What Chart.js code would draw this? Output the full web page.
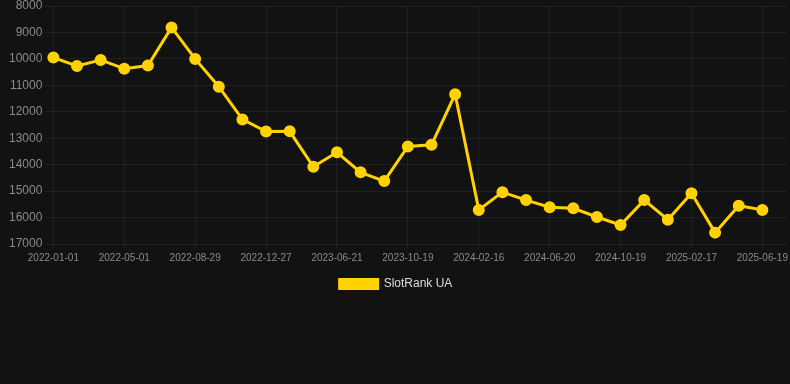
<!DOCTYPE html>
<html>
<head>
<meta charset="utf-8">
<script src="https://cdn.jsdelivr.net/npm/chart.js@4.4.0/dist/chart.umd.min.js"></script>
<style>
    html, body { margin: 0; padding: 0; background: #121212; }
    #wrap { width: 790px; height: 300px; position: relative; }
</style>
</head>
<body>
<div id="wrap"><canvas id="rank-chart"></canvas></div>
<script>
// Fechas (eje X) y posiciones de ranking; la ultima fecha queda sin dato
const fechas = [
    '2022-01-01', '2022-02-10', '2022-03-22', '2022-05-01', '2022-06-10', '2022-07-20',
    '2022-08-29', '2022-10-08', '2022-11-17', '2022-12-27', '2023-02-25', '2023-04-24',
    '2023-06-21', '2023-07-31', '2023-09-09', '2023-10-19', '2023-11-28', '2024-01-07',
    '2024-02-16', '2024-03-28', '2024-05-09', '2024-06-20', '2024-07-30', '2024-09-08',
    '2024-10-19', '2024-11-28', '2025-01-07', '2025-02-17', '2025-03-29', '2025-05-09',
    '2025-06-19', '2025-07-29'
];
const rankUA = [
    9950, 10270, 10040, 10370, 10250, 8810,
    10000, 11050, 12290, 12750, 12740, 14080,
    13530, 14290, 14620, 13310, 13250, 11340,
    15710, 15040, 15340, 15610, 15650, 15980,
    16280, 15340, 16080, 15080, 16570, 15550,
    15710
];
const serieNombre = 'SlotRank UA';
const ejeYMin = 8000;
const ejeYMax = 17000;
const ejeYPaso = 1000;

const amarillo = '#FFD200';
const gris = '#8a8a8a';
const rejilla = 'rgba(255,255,255,0.06)';

new Chart(document.getElementById('rank-chart').getContext('2d'), {
    type: 'line',
    data: {
        labels: fechas,
        datasets: [{
            label: serieNombre,
            data: rankUA,
            borderColor: amarillo,
            backgroundColor: amarillo,
            borderWidth: 3,
            pointRadius: 4.5,
            pointHoverRadius: 6,
            tension: 0
        }]
    },
    options: {
        responsive: true,
        maintainAspectRatio: false,
        animation: false,
        layout: { autoPadding: false, padding: { top: 0, right: 4, left: 6 } },
        scales: {
            y: {
                reverse: true,
                min: ejeYMin,
                max: ejeYMax,
                ticks: {
                    stepSize: ejeYPaso,
                    padding: 3,
                    color: gris,
                    font: { size: 12, family: 'Arial, Liberation Sans', lineHeight: 0.5 },
                    callback: function (v) { return String(v); }
                },
                grid: { color: rejilla, tickLength: 8 },
                border: { display: false }
            },
            x: {
                ticks: {
                    autoSkip: false,
                    maxRotation: 0,
                    padding: 4,
                    color: gris,
                    font: { size: 10, family: 'Arial, Liberation Sans' },
                    callback: function (val, i) {
                        return i % 3 === 0 ? fechas[i] : '';
                    }
                },
                grid: {
                    tickLength: 4,
                    color: function (ctx) {
                        return ctx.index % 3 === 0 ? rejilla : 'rgba(0,0,0,0)';
                    }
                },
                border: { display: false }
            }
        },
        plugins: {
            legend: {
                position: 'bottom',
                labels: {
                    color: '#dddddd',
                    boxWidth: 38,
                    boxHeight: 9,
                    font: { size: 12, family: 'Arial, Liberation Sans' }
                }
            },
            tooltip: { enabled: true }
        }
    }
});
</script>
</body>
</html>
